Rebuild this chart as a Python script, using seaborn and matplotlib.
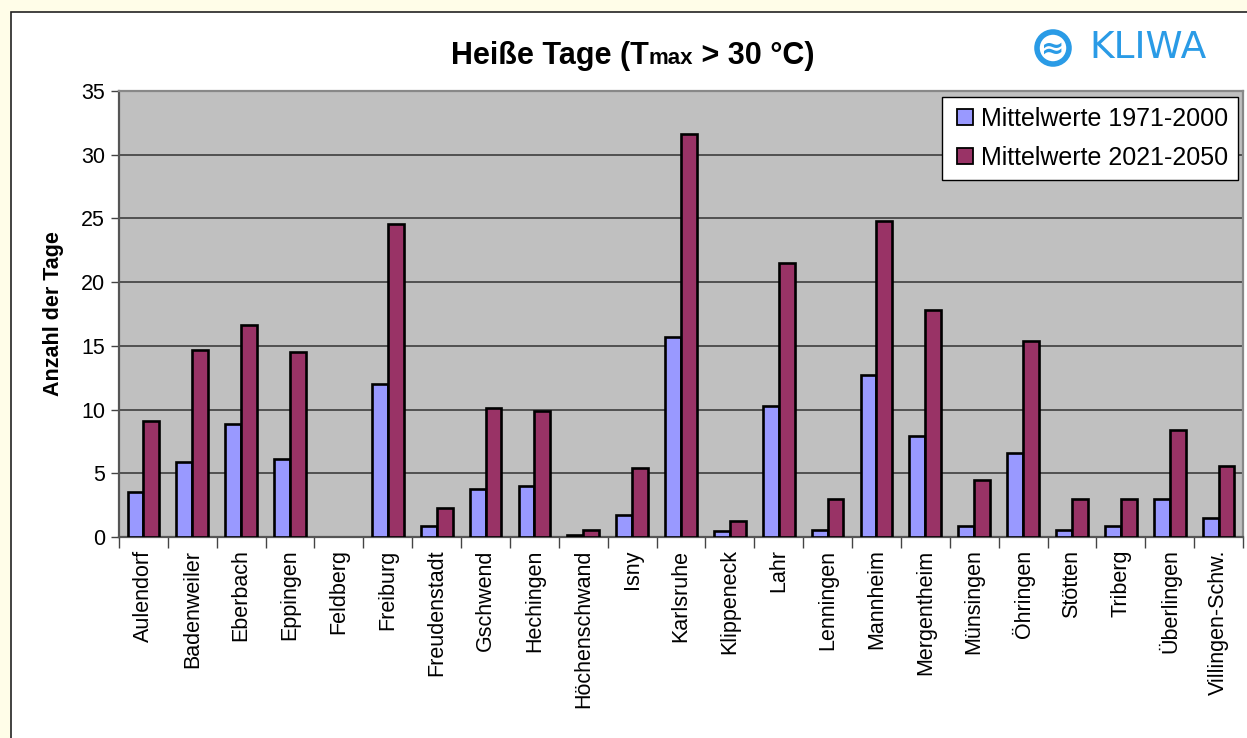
import numpy as np
import pandas as pd
import matplotlib
matplotlib.use('Agg')
import matplotlib.pyplot as plt
import matplotlib.patches as mpatches
from matplotlib.lines import Line2D
import seaborn as sns

# ── Data ────────────────────────────────────────────────────
stations = ["Aulendorf", "Badenweiler", "Eberbach", "Eppingen", "Feldberg",
            "Freiburg", "Freudenstadt", "Gschwend", "Hechingen", "Höchenschwand",
            "Isny", "Karlsruhe", "Klippeneck", "Lahr", "Lenningen", "Mannheim",
            "Mergentheim", "Münsingen", "Öhringen", "Stötten", "Triberg",
            "Überlingen", "Villingen-Schw."]
mw_1971_2000 = [3.5, 5.9, 8.9, 6.1, 0.0, 12.0, 0.9, 3.8, 4.0, 0.15, 1.7, 15.7,
                0.45, 10.3, 0.55, 12.7, 7.9, 0.9, 6.6, 0.55, 0.9, 3.0, 1.5]
mw_2021_2050 = [9.1, 14.7, 16.6, 14.5, 0.0, 24.6, 2.3, 10.1, 9.9, 0.55, 5.4, 31.6,
                1.25, 21.5, 3.0, 24.8, 17.8, 4.5, 15.4, 3.0, 3.0, 8.4, 5.6]
periods = ["Mittelwerte 1971-2000", "Mittelwerte 2021-2050"]
yticks = [0, 5, 10, 15, 20, 25, 30, 35]

df = pd.DataFrame({
    "Station": stations * 2,
    "Wert": mw_1971_2000 + mw_2021_2050,
    "Periode": [periods[0]] * len(stations) + [periods[1]] * len(stations),
})

# ── Styling ────────────────────────────────────────────────
sns.set_theme(style="white")
plt.rcParams["font.family"] = ["Liberation Sans", "DejaVu Sans"]
plt.rcParams.update({"text.color": "black", "axes.labelcolor": "black",
                     "xtick.color": "black", "ytick.color": "black"})
BLUE, MAROON = "#9999FF", "#993366"

fig = plt.figure(figsize=(12.47, 7.38), dpi=100, facecolor="#FFFDE8")
W, H = 1247, 738

# white chart frame
fig.patches.append(mpatches.Rectangle((11 / W, -0.01), 1.0, 1 - 12 / H + 0.01,
                                      transform=fig.transFigure, facecolor="white",
                                      edgecolor="#222222", linewidth=1.2, zorder=-10))

ax = fig.add_axes([119 / W, 1 - 537 / H, (1243 - 119) / W, (537 - 91) / H])
ax.set_facecolor("#C0C0C0")

sns.barplot(data=df, x="Station", y="Wert", hue="Periode", palette=[BLUE, MAROON],
            saturation=1, width=0.65, edgecolor="black", linewidth=1.9, ax=ax,
            legend=False, zorder=3)
# zero-height bars leave no visible mark in the original
for p in ax.patches:
    if p.get_height() == 0:
        p.set_linewidth(0)

ax.set_ylim(0, 35)
ax.set_xlim(-0.5, len(stations) - 0.5)
ax.set_yticks(yticks)
ax.yaxis.grid(True, color="#333333", linewidth=1.1, zorder=0)
ax.set_axisbelow(True)
ax.tick_params(axis="y", length=6, width=1, color="#444444", labelsize=15.5, pad=4,
               left=True)
ax.set_xticks(range(len(stations)))
ax.set_xticklabels(stations, rotation=90, fontsize=15.5)
ax.tick_params(axis="x", which="major", length=0, pad=9)
ax.set_xticks(np.arange(-0.5, len(stations), 1), minor=True)
ax.tick_params(axis="x", which="minor", length=8, width=1, color="#444444",
               bottom=True)
for s in ["left", "bottom"]:
    ax.spines[s].set_color("#555555")
    ax.spines[s].set_linewidth(1.6)
for s in ["top", "right"]:
    ax.spines[s].set_color("#888888")
    ax.spines[s].set_linewidth(1.6)
ax.set_xlabel("")
ax.set_ylabel("Anzahl der Tage", fontsize=15.5, fontweight="bold", labelpad=12)

handles = [Line2D([0], [0], marker="s", linestyle="", markersize=11,
                  markerfacecolor=c, markeredgecolor="black", markeredgewidth=1.3)
           for c in [BLUE, MAROON]]
leg = ax.legend(handles, periods, loc="upper right", bbox_to_anchor=(0.9955, 0.987),
                fontsize=18, frameon=True, fancybox=False, framealpha=1,
                edgecolor="black", handletextpad=0.15, labelspacing=0.6,
                borderpad=0.4, handlelength=1.0, borderaxespad=0)
leg.get_frame().set_linewidth(1.0)
leg.set_zorder(10)

# ── Title with small "max" ─────────────────────────────────
parts = [("Heiße Tage (T", 22), ("max", 16), (" > 30 °C)", 22)]
fig.canvas.draw()
renderer = fig.canvas.get_renderer()
texts = []
for txt, fs in parts:
    t = fig.text(0, 1 - 64 / H, txt, fontsize=fs, fontweight="bold", ha="left",
                 va="baseline", color="black")
    texts.append(t)
widths = [t.get_window_extent(renderer).width / W for t in texts]
x = 633 / W - sum(widths) / 2
for t, w in zip(texts, widths):
    t.set_x(x)
    x += w

# ── KLIWA logo ─────────────────────────────────────────────
LOGO = "#2A9BE6"
fig.patches.append(mpatches.Ellipse((1053 / W, 1 - 48 / H), 32 / W, 32 / H,
                                    transform=fig.transFigure, facecolor="none",
                                    edgecolor=LOGO, linewidth=4))
fig.text(1053 / W, 1 - 49 / H, "≈", fontsize=20, color=LOGO, ha="center",
         va="center", fontweight="bold", family="DejaVu Sans")
fig.text(1089 / W, 1 - 48 / H, "KLIWA", fontsize=27, color=LOGO, ha="left",
         va="center", family="DejaVu Sans")

fig.savefig("out.png", dpi=100, facecolor=fig.get_facecolor())
